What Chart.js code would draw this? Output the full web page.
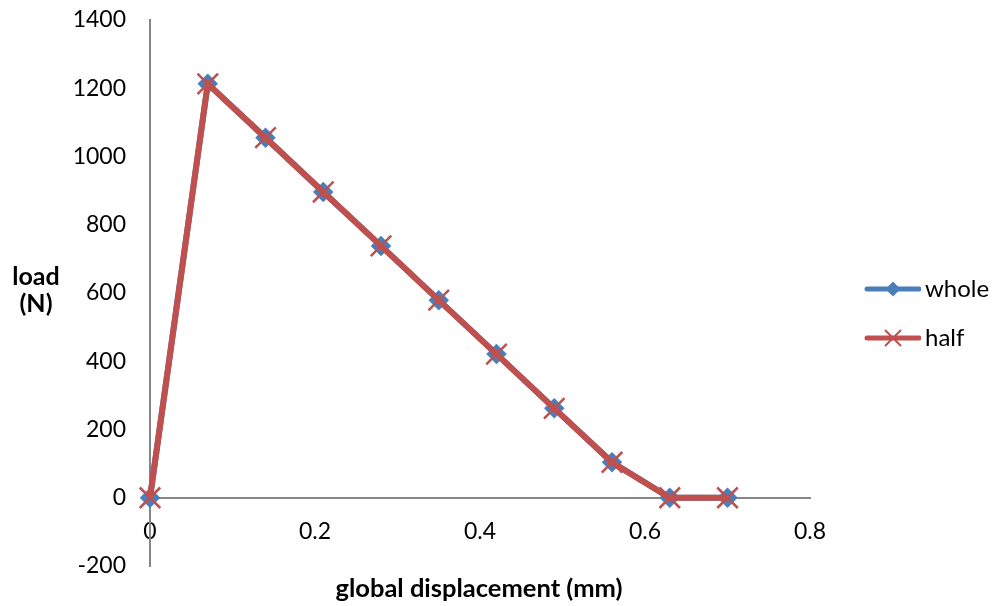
<!DOCTYPE html>
<html>
<head>
<meta charset="utf-8">
<script src="https://cdn.jsdelivr.net/npm/chart.js@4/dist/chart.umd.min.js"></script>
<style>
  html, body { margin: 0; padding: 0; background: #ffffff; }
  #wrap { width: 995px; height: 606px; position: relative; }
</style>
</head>
<body>
<div id="wrap"><canvas id="c" width="995" height="606"></canvas></div>
<script>
// ---- data ----
const displacement = [0, 0.07, 0.14, 0.21, 0.28, 0.35, 0.42, 0.49, 0.56, 0.63, 0.70];
const wholeLoad = [0, 1213, 1055, 896, 738, 579, 421, 262, 104, 0, 0];
const halfLoad  = [0, 1213, 1055, 896, 738, 579, 421, 262, 104, 0, 0];
const seriesNames = ['whole', 'half'];
const xTickLabels = ['0', '0.2', '0.4', '0.6', '0.8'];
const yTickLabels = ['-200', '0', '200', '400', '600', '800', '1000', '1200', '1400'];
const xTitle = 'global displacement (mm)';
const yTitle = ['load', '(N)'];

const BLUE = '#4A7EBB';
const RED = '#C0504D';
const AXIS = '#868686';
const FONT = 'Lato, "Liberation Sans", sans-serif';

// legend geometry
const LEG_PAD = 25, LEG_FONT = 24, LEG_PSW = 78;
const LEG_X = 810 + LEG_PAD;              // item start
const LEG_CENTER = LEG_X + LEG_PSW / 2;   // image centre
const LEG_IMG_W = 2 * (921 - LEG_CENTER);
const LEG_LINE_START = 865 - (LEG_CENTER - LEG_IMG_W / 2);

function pts(xs, ys) { return xs.map((x, i) => ({ x: x, y: ys[i] })); }

// legend sample images (line + marker)
function legendImage(color, kind) {
  const c = document.createElement('canvas');
  c.width = Math.round(LEG_IMG_W); c.height = 22;
  const g = c.getContext('2d');
  g.strokeStyle = color; g.lineWidth = 5; g.lineCap = 'round';
  const x0 = LEG_LINE_START + 2, x1 = c.width - 2;
  g.beginPath(); g.moveTo(x0, 11); g.lineTo(x1, 11); g.stroke();
  const cx = (x0 + x1) / 2, cy = 11;
  if (kind === 'diamond') {
    g.fillStyle = color;
    g.beginPath(); g.moveTo(cx - 7.5, cy); g.lineTo(cx, cy - 7.5); g.lineTo(cx + 7.5, cy); g.lineTo(cx, cy + 7.5); g.closePath(); g.fill();
  } else {
    g.lineWidth = 2; g.lineCap = 'butt';
    g.beginPath(); g.moveTo(cx - 8, cy - 8); g.lineTo(cx + 8, cy + 8);
    g.moveTo(cx + 8, cy - 8); g.lineTo(cx - 8, cy + 8); g.stroke();
  }
  return c;
}

const layoutFix = {
  id: 'layoutFix',
  beforeLayout(chart) {
    const lg = chart.legend;
    if (lg && !lg._fixed) {
      const f = lg.fit.bind(lg);
      lg.fit = function () { f(); this.width = 185; };
      lg._fixed = true;
    }
  },
  afterLayout(chart) {
    const lg = chart.legend;
    if (lg) {
      // centre legend rows around y = 313
      const shift = 313.5 - (lg.top + lg.bottom) / 2;
      lg.top += shift; lg.bottom += shift;
    }
  },
  afterDraw(chart) {
    const ctx = chart.ctx;
    const ca = chart.chartArea;
    ctx.save();
    ctx.fillStyle = '#000';
    ctx.textAlign = 'center';
    ctx.textBaseline = 'middle';
    // y-axis title (horizontal, two lines)
    const yt = chart.options.scales.y.title;
    ctx.font = 'bold 25px ' + FONT;
    const cy = 290.5;
    const lh = 27;
    yt.text.forEach((s, i) => ctx.fillText(s, 36, cy - lh * (yt.text.length - 1) / 2 + i * lh));
    // x-axis title
    const xt = chart.options.scales.x.title;
    ctx.font = 'bold 25.5px ' + FONT;
    ctx.fillText(xt.text, (ca.left + ca.right) / 2 - 1, 589);
    ctx.restore();
  }
};

new Chart(document.getElementById('c'), {
  type: 'line',
  data: {
    datasets: [
      {
        label: seriesNames[0],
        data: pts(displacement, wholeLoad),
        borderColor: BLUE, backgroundColor: BLUE,
        borderWidth: 6, pointStyle: 'rectRot', pointRadius: 10,
        pointBorderWidth: 0.5, pointBorderColor: BLUE, pointBackgroundColor: BLUE,
        tension: 0, order: 1, clip: false
      },
      {
        label: seriesNames[1],
        data: pts(displacement, halfLoad),
        borderColor: RED, backgroundColor: RED,
        borderWidth: 6, pointStyle: 'crossRot', pointRadius: 14.5,
        pointBorderWidth: 2.5, pointBorderColor: RED,
        tension: 0, order: 0, clip: false
      }
    ]
  },
  options: {
    responsive: false,
    animation: false,
    events: [],
    layout: { padding: { top: 20, bottom: 40, left: 0, right: 0 } },
    scales: {
      x: {
        type: 'linear',
        position: { y: 0 },
        min: 0, max: 0.8,
        grid: { display: false, drawTicks: false },
        border: { display: true, color: AXIS, width: 2 },
        ticks: {
          stepSize: 0.2, padding: 20, color: '#000',
          font: { family: FONT, size: 23 },
          maxRotation: 0,
          callback: (v, i) => xTickLabels[i]
        },
        title: { display: false, text: xTitle },
        afterFit(scale) { scale.paddingTop = 0; scale.paddingBottom = 0; }
      },
      y: {
        type: 'linear',
        position: 'left',
        min: -200, max: 1400,
        grid: { display: false, drawTicks: false },
        border: { display: true, color: AXIS, width: 2 },
        ticks: {
          stepSize: 200, padding: 24, color: '#000',
          font: { family: FONT, size: 23 },
          callback: (v, i) => yTickLabels[i]
        },
        title: { display: false, text: yTitle },
        afterFit(scale) { scale.width = 150; scale.paddingTop = 0; scale.paddingBottom = 0; }
      }
    },
    plugins: {
      tooltip: { enabled: false },
      legend: {
        display: true,
        position: 'right',
        align: 'center',
        labels: {
          usePointStyle: true,
          pointStyleWidth: LEG_PSW,
          padding: LEG_PAD,
          color: '#000',
          font: { family: FONT, size: LEG_FONT },
          generateLabels: () => [
            { text: seriesNames[0], pointStyle: legendImage(BLUE, 'diamond'), datasetIndex: 0, hidden: false, fontColor: '#000', lineWidth: 0, strokeStyle: 'transparent', fillStyle: BLUE },
            { text: seriesNames[1], pointStyle: legendImage(RED, 'cross'), datasetIndex: 1, hidden: false, fontColor: '#000', lineWidth: 0, strokeStyle: 'transparent', fillStyle: RED }
          ]
        }
      }
    }
  },
  plugins: [layoutFix]
});
</script>
</body>
</html>
